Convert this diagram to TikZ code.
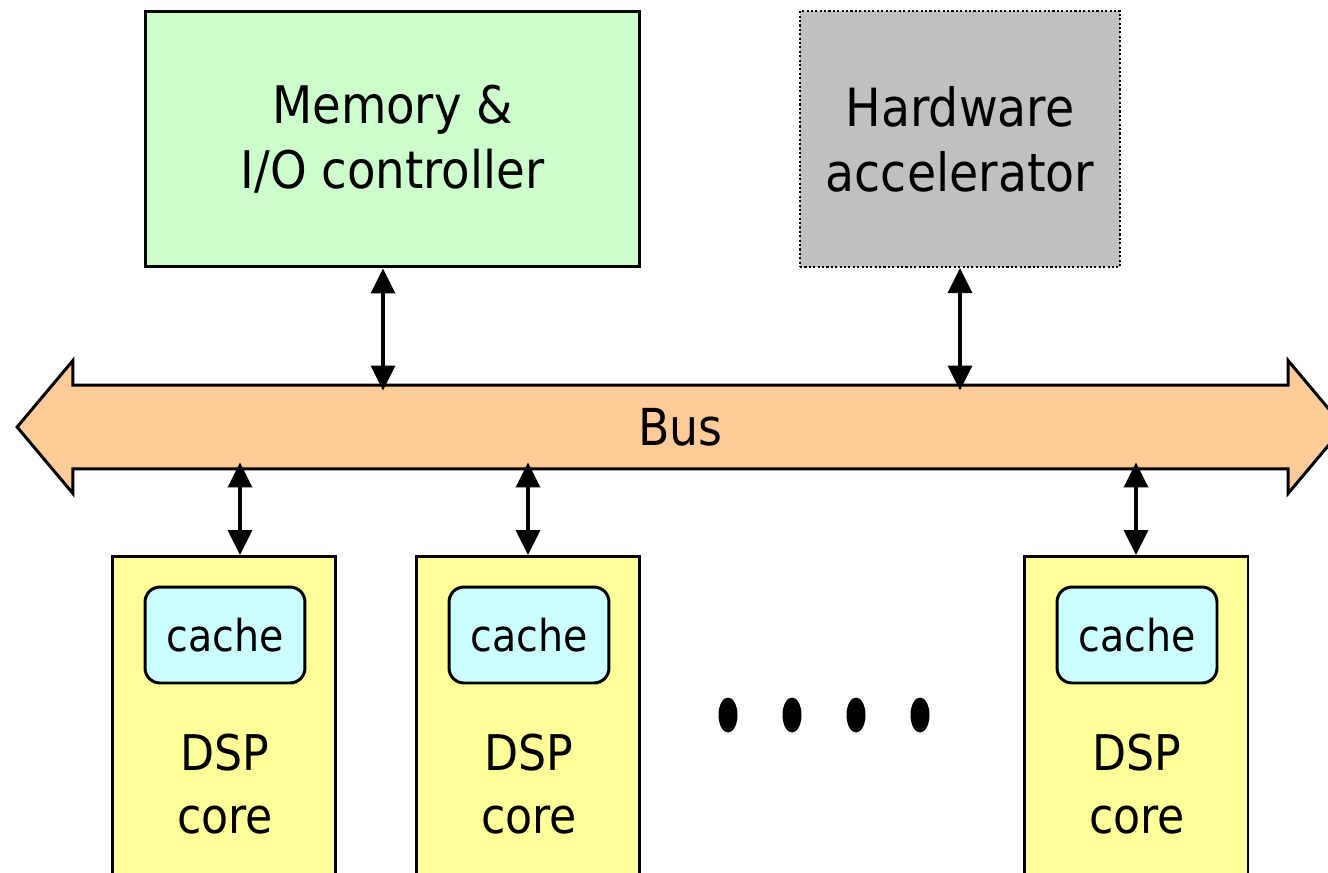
\documentclass[tikz,border=0pt]{standalone}
\usepackage{fontspec}
\setmainfont{DejaVu Sans Condensed}
\usetikzlibrary{arrows.meta,shapes.arrows}

\definecolor{memgreen}{RGB}{204,255,204}
\definecolor{accgray}{RGB}{192,192,192}
\definecolor{busorange}{RGB}{255,204,153}
\definecolor{coreyellow}{RGB}{255,255,153}
\definecolor{cachecyan}{RGB}{204,255,255}

\begin{document}
\begin{tikzpicture}[x=0.02cm, y=0.02cm]
\tikzstyle{every node}+=[inner sep=0pt]
\tikzstyle{block}=[draw=black, line width=1.7pt, align=center, font={\fontsize{30}{37}\selectfont}]
\tikzstyle{busarrow}=[double arrow, draw=black, line width=1.7pt, fill=busorange, minimum height=26.54cm, double arrow head extend=0.49cm, double arrow tip angle=100, inner xsep=0pt, inner ysep=0.45cm, text height=0.72cm, text depth=0cm, font={\fontsize{29}{34}\selectfont}]
\tikzstyle{corebox}=[draw=black, line width=1.7pt, fill=coreyellow, minimum width=4.48cm, minimum height=7cm, anchor=north]
\tikzstyle{cachebox}=[draw=black, line width=1.7pt, fill=cachecyan, rounded corners=0.3cm, minimum width=3.2cm, minimum height=1.92cm, font={\fontsize{25}{30}\selectfont}]
\tikzstyle{coretext}=[align=center, font={\fontsize{28}{36}\selectfont}]
\tikzstyle{link}=[{Triangle[length=0.5cm,width=0.48cm]}-{Triangle[length=0.5cm,width=0.48cm]}, line width=2pt]
\useasboundingbox (0,0) rectangle (1328,-872);
\clip (0,0) rectangle (1328,-872);
% top row
\node [block, fill=memgreen, minimum width=9.9cm, minimum height=5.12cm, font={\fontsize{29.5}{37}\selectfont}] (mem) at (392.5,-139) {Memory \&\\I/O controller};
\node [block, fill=accgray, line width=1.2pt, dash pattern=on 1.2pt off 1.3pt, minimum width=6.4cm, minimum height=5.12cm] (acc) at (960,-139) {Hardware\\accelerator};
% bus
\node [busarrow] (bus) at (680.5,-427) {Bus};
% cores
\node [corebox] (dspA) at (224,-555) {};
\node [cachebox] (cacheA) at (225,-635) {cache};
\node [coretext] (txtA) at (225,-784) {DSP\\core};
\node [corebox] (dspB) at (528,-555) {};
\node [cachebox] (cacheB) at (529,-635) {cache};
\node [coretext] (txtB) at (529,-784) {DSP\\core};
\node [corebox] (dspC) at (1136,-555) {};
\node [cachebox] (cacheC) at (1137,-635) {cache};
\node [coretext] (txtC) at (1137,-784) {DSP\\core};
% dots
\fill [black] (728,-715) ellipse (9.5 and 17.5);
\fill [black] (792,-715) ellipse (9.5 and 17.5);
\fill [black] (856,-715) ellipse (9.5 and 17.5);
\fill [black] (920,-715) ellipse (9.5 and 17.5);
% links to the bus
\draw [link, shorten >=-0.14cm] ([xshift=-0.19cm]mem.south) -- ([xshift=-0.19cm]mem.south |- bus.north);
\draw [link, shorten >=-0.14cm] (acc.south) -- (acc.south |- bus.north);
\draw [link, shorten <=-0.16cm] ([xshift=0.32cm]dspA.north |- bus.south) -- ([xshift=0.32cm]dspA.north);
\draw [link, shorten <=-0.16cm] (dspB.north |- bus.south) -- (dspB.north);
\draw [link, shorten <=-0.16cm] (dspC.north |- bus.south) -- (dspC.north);
\end{tikzpicture}
\end{document}
